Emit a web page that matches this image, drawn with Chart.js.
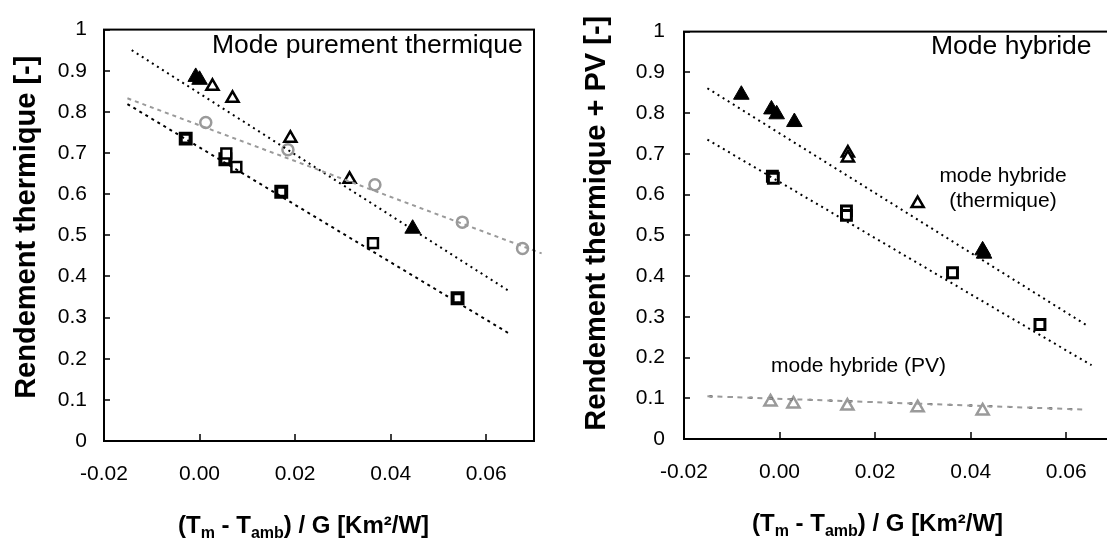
<!DOCTYPE html>
<html><head><meta charset="utf-8">
<script src="https://cdn.jsdelivr.net/npm/chart.js@4.4.1/dist/chart.umd.min.js"></script>
<style>
html,body{margin:0;padding:0;background:#fff;overflow:hidden;}
body{width:1107px;height:538px;position:relative;font-family:"Liberation Sans",Arial,sans-serif;}
canvas{position:absolute;top:0;}
#c1{left:0}
#c2{left:560px}
.t{position:absolute;line-height:1;white-space:nowrap;color:#000;}
.xt{font-weight:bold;font-size:24px;}
.xt sub{font-size:16px;vertical-align:-5px;line-height:0}
</style></head><body>
<canvas id="c1" width="560" height="538"></canvas>
<canvas id="c2" width="580" height="538"></canvas>
<div class="t" style="left:212px;top:31px;font-size:26.5px">Mode purement thermique</div>
<div class="t" style="left:931px;top:32px;font-size:26.5px">Mode hybride</div>
<div class="t" style="left:933px;top:162px;width:140px;font-size:21px;text-align:center;line-height:25px">mode hybride<br>(thermique)</div>
<div class="t" style="left:771px;top:354px;font-size:21px">mode hybride (PV)</div>
<div class="t xt" style="left:178px;top:513px">(T<sub>m</sub> - T<sub>amb</sub>) / G [Km²/W]</div>
<div class="t xt" style="left:752px;top:511px">(T<sub>m</sub> - T<sub>amb</sub>) / G [Km²/W]</div>
<script>
// ---- axis ticks ----
const xTickValues = [-0.02, 0, 0.02, 0.04, 0.06];
const xTickLabels = ['-0.02', '0.00', '0.02', '0.04', '0.06'];
const yTickValues = [0, 0.1, 0.2, 0.3, 0.4, 0.5, 0.6, 0.7, 0.8, 0.9, 1];
const yTickLabels = ['0', '0.1', '0.2', '0.3', '0.4', '0.5', '0.6', '0.7', '0.8', '0.9', '1'];

// ---- left panel: Mode purement thermique ----
const L_triFilledX = [-0.0008, 0.0000, 0.0446];
const L_triFilledY = [0.885, 0.878, 0.516];
const L_triOpenX = [0.0027, 0.0069, 0.0190, 0.0314];
const L_triOpenY = [0.862, 0.833, 0.736, 0.636];
const L_sqBoldX = [-0.0029, 0.0054, 0.0171, 0.0540];
const L_sqBoldY = [0.735, 0.685, 0.606, 0.347];
const L_sqOpenX = [0.0056, 0.0077, 0.0363];
const L_sqOpenY = [0.699, 0.666, 0.481];
const L_circX = [0.0013, 0.0185, 0.0367, 0.0550, 0.0676];
const L_circY = [0.774, 0.708, 0.623, 0.532, 0.468];
const L_fitTriX = [-0.0142, 0.0647];
const L_fitTriY = [0.950, 0.365];
const L_fitSqX = [-0.0151, 0.0647];
const L_fitSqY = [0.819, 0.262];
const L_fitCircX = [-0.0151, 0.0716];
const L_fitCircY = [0.833, 0.456];

// ---- right panel: Mode hybride ----
const R_triFilledX = [-0.0080, -0.0017, -0.0006, 0.0031, 0.0425, 0.0428];
const R_triFilledY = [0.845, 0.809, 0.797, 0.778, 0.463, 0.455];
const R_triOpenX = [0.0143, 0.0143, 0.0289];
const R_triOpenY = [0.702, 0.690, 0.578];
const R_sqX = [-0.0015, -0.0013, 0.0140, 0.0140, 0.0362, 0.0545];
const R_sqY = [0.645, 0.640, 0.560, 0.549, 0.408, 0.281];
const R_pvX = [-0.0019, 0.0029, 0.0142, 0.0289, 0.0425];
const R_pvY = [0.091, 0.086, 0.081, 0.077, 0.069];
const R_fitTriX = [-0.0151, 0.0643];
const R_fitTriY = [0.861, 0.279];
const R_fitSqX = [-0.0151, 0.0653];
const R_fitSqY = [0.735, 0.181];
const R_fitPvX = [-0.0151, 0.0643];
const R_fitPvY = [0.105, 0.072];

const pts = (xs, ys) => xs.map((x, i) => ({x: x, y: ys[i]}));
const FONT = '"Liberation Sans", Arial, sans-serif';
const GRAY = '#9a9a9a';

const frameTicks = {
  id: 'frameTicks',
  afterDatasetsDraw(chart) {
    const {ctx, chartArea: a, scales: {x, y}} = chart;
    ctx.save();
    ctx.strokeStyle = '#000';
    ctx.lineWidth = 2;
    ctx.strokeRect(a.left, a.top, a.right - a.left, a.bottom - a.top);
    ctx.lineWidth = 1.5;
    ctx.beginPath();
    y.ticks.forEach(t => { const py = Math.round(y.getPixelForValue(t.value)); ctx.moveTo(a.left, py); ctx.lineTo(a.left + 6, py); });
    x.ticks.forEach(t => { const px = Math.round(x.getPixelForValue(t.value)); ctx.moveTo(px, a.bottom); ctx.lineTo(px, a.bottom - 7); });
    ctx.stroke();
    ctx.restore();
  }
};

function fitLine(xs, ys, color, dash, width, extra) {
  return Object.assign({data: pts(xs, ys), showLine: true, pointRadius: 0, borderColor: color,
    borderWidth: width, borderDash: dash, fill: false}, extra || {});
}
function marks(xs, ys, style, r, bg, border, bw) {
  return {data: pts(xs, ys), showLine: false, pointStyle: style, pointRadius: r, pointHoverRadius: r,
    backgroundColor: bg, borderColor: border, borderWidth: bw};
}

function options(cfg) {
  return {
    responsive: false, animation: false, events: [],
    layout: {padding: cfg.padding},
    plugins: {legend: {display: false}, tooltip: {enabled: false}},
    scales: {
      x: {
        type: 'linear', min: -0.02, max: 0.07,
        afterBuildTicks: s => { s.ticks = xTickValues.map(v => ({value: v})); },
        afterFit: s => { s.height = cfg.xHeight; },
        ticks: {callback: (v, i) => xTickLabels[i], color: '#000', padding: 21, font: {family: FONT, size: 21}, maxRotation: 0, autoSkip: false},
        grid: {display: false, drawTicks: false},
        border: {display: false}
      },
      y: {
        type: 'linear', min: 0, max: 1,
        afterBuildTicks: s => { s.ticks = yTickValues.map(v => ({value: v})); },
        afterFit: s => { s.width = cfg.yWidth; },
        ticks: {callback: (v, i) => yTickLabels[i], color: '#000', padding: cfg.yLabelPad, font: {family: FONT, size: 21}, autoSkip: false},
        grid: {display: false, drawTicks: false},
        border: {display: false},
        title: {display: true, text: cfg.yTitle, color: '#000', font: {family: FONT, size: 29, weight: 'bold'}, padding: {top: cfg.titlePad, bottom: 0}}
      }
    }
  };
}

new Chart(document.getElementById('c1'), {
  type: 'scatter',
  data: {datasets: [
    fitLine(L_fitCircX, L_fitCircY, GRAY, [4, 4], 2, {clip: false}),
    fitLine(L_fitSqX, L_fitSqY, '#000', [3, 4], 2),
    fitLine(L_fitTriX, L_fitTriY, '#000', [2, 4], 2),
    marks(L_circX, L_circY, 'circle', 5.5, '#fff', GRAY, 2.5),
    marks(L_sqOpenX, L_sqOpenY, 'rect', 7, '#fff', '#000', 2.5),
    marks(L_sqBoldX, L_sqBoldY, 'rect', 7, '#fff', '#000', 4),
    marks(L_triOpenX, L_triOpenY, 'triangle', 7, '#fff', '#000', 2.5),
    marks(L_triFilledX, L_triFilledY, 'triangle', 9, '#000', '#000', 1)
  ]},
  options: options({padding: {left: 0, right: 26, top: 22, bottom: 0}, xHeight: 97, yWidth: 104, yLabelPad: 17, titlePad: 10, yTitle: '\u00a0\u00a0Rendement thermique [-]'}),
  plugins: [frameTicks]
});

new Chart(document.getElementById('c2'), {
  type: 'scatter',
  data: {datasets: [
    fitLine(R_fitPvX, R_fitPvY, GRAY, [5, 5], 2),
    fitLine(R_fitPvX, R_fitPvY, '#000', [3, 17], 2, {borderDashOffset: -2}),
    fitLine(R_fitSqX, R_fitSqY, '#000', [2, 4], 2),
    fitLine(R_fitTriX, R_fitTriY, '#000', [2, 4], 2),
    marks(R_pvX, R_pvY, 'triangle', 7, '#fff', GRAY, 2.5),
    marks(R_sqX, R_sqY, 'rect', 7, '#fff', '#000', 3),
    marks(R_triOpenX, R_triOpenY, 'triangle', 7, '#fff', '#000', 2.5),
    marks(R_triFilledX, R_triFilledY, 'triangle', 9, '#000', '#000', 1)
  ]},
  options: options({padding: {left: 0, right: 26, top: 20, bottom: 0}, xHeight: 99, yWidth: 124, yLabelPad: 19, titlePad: 20, yTitle: '\u00a0\u00a0\u00a0Rendement thermique + PV [-]'}),
  plugins: [frameTicks]
});
</script>
</body></html>
